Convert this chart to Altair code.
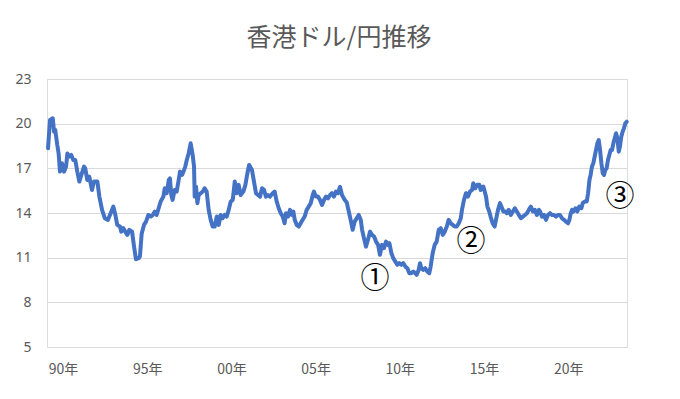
import altair as alt
import pandas as pd

years = [
    1989.11, 1989.23, 1989.39, 1989.47, 1989.54, 1989.66, 1989.74, 1989.82, 1989.94,
    1990.06, 1990.18, 1990.26, 1990.37, 1990.49, 1990.61, 1990.73, 1990.85, 1990.97,
    1991.09, 1991.25, 1991.32, 1991.44, 1991.56, 1991.72, 1991.84, 1992.04, 1992.16,
    1992.32, 1992.48, 1992.67, 1992.83, 1992.99, 1993.11, 1993.22, 1993.38, 1993.46,
    1993.58, 1993.70, 1993.82, 1993.94, 1994.10, 1994.22, 1994.33, 1994.50, 1994.57,
    1994.67, 1994.81, 1994.93, 1995.07, 1995.21, 1995.33, 1995.45, 1995.56, 1995.68,
    1995.80, 1995.96, 1996.04, 1996.16, 1996.28, 1996.35, 1996.43, 1996.51, 1996.63,
    1996.75, 1996.87, 1996.95, 1997.07, 1997.19, 1997.26, 1997.35, 1997.46, 1997.58,
    1997.70, 1997.78, 1997.82, 1997.90, 1997.98, 1998.06, 1998.18, 1998.30, 1998.41,
    1998.53, 1998.65, 1998.77, 1998.89, 1999.01, 1999.13, 1999.25, 1999.36, 1999.48,
    1999.60, 1999.72, 1999.84, 1999.96, 2000.08, 2000.20, 2000.31, 2000.43, 2000.55,
    2000.71, 2000.83, 2000.95, 2001.05, 2001.12, 2001.22, 2001.34, 2001.46, 2001.58,
    2001.70, 2001.82, 2001.94, 2002.05, 2002.17, 2002.29, 2002.45, 2002.57, 2002.69,
    2002.81, 2002.93, 2003.05, 2003.16, 2003.24, 2003.36, 2003.48, 2003.60, 2003.68,
    2003.76, 2003.88, 2004.00, 2004.11, 2004.23, 2004.35, 2004.47, 2004.59, 2004.71,
    2004.83, 2004.90, 2005.02, 2005.14, 2005.26, 2005.38, 2005.50, 2005.62, 2005.74,
    2005.86, 2005.97, 2006.09, 2006.21, 2006.33, 2006.45, 2006.57, 2006.73, 2006.85,
    2006.97, 2007.08, 2007.20, 2007.32, 2007.44, 2007.56, 2007.68, 2007.76, 2007.87,
    2007.99, 2008.11, 2008.23, 2008.35, 2008.47, 2008.59, 2008.71, 2008.82, 2008.94,
    2009.06, 2009.18, 2009.30, 2009.38, 2009.50, 2009.61, 2009.73, 2009.85, 2009.97,
    2010.09, 2010.21, 2010.33, 2010.45, 2010.56, 2010.68, 2010.80, 2010.92, 2011.00,
    2011.12, 2011.20, 2011.28, 2011.40, 2011.51, 2011.63, 2011.75, 2011.83, 2011.95,
    2012.07, 2012.19, 2012.31, 2012.43, 2012.55, 2012.67, 2012.79, 2012.90, 2013.02,
    2013.14, 2013.26, 2013.38, 2013.50, 2013.62, 2013.69, 2013.81, 2013.93, 2014.05,
    2014.17, 2014.29, 2014.36, 2014.48, 2014.60, 2014.72, 2014.80, 2014.88, 2014.96,
    2015.04, 2015.12, 2015.20, 2015.31, 2015.39, 2015.51, 2015.63, 2015.71, 2015.83,
    2015.95, 2016.03, 2016.15, 2016.27, 2016.35, 2016.47, 2016.59, 2016.71, 2016.83,
    2016.95, 2017.07, 2017.19, 2017.31, 2017.43, 2017.55, 2017.66, 2017.78, 2017.90,
    2018.02, 2018.14, 2018.26, 2018.33, 2018.44, 2018.56, 2018.68, 2018.80, 2018.92,
    2019.04, 2019.16, 2019.28, 2019.39, 2019.51, 2019.63, 2019.75, 2019.87, 2019.99,
    2020.07, 2020.15, 2020.23, 2020.31, 2020.43, 2020.54, 2020.66, 2020.78, 2020.86,
    2020.98, 2021.10, 2021.18, 2021.26, 2021.33, 2021.41, 2021.49, 2021.57, 2021.65,
    2021.73, 2021.81, 2021.89, 2021.97, 2022.05, 2022.13, 2022.20, 2022.28, 2022.36,
    2022.44, 2022.52, 2022.60, 2022.68, 2022.76, 2022.84, 2022.92, 2023.00, 2023.07,
    2023.15, 2023.23, 2023.31, 2023.39, 2023.47,
]

rates = [
    18.35, 20.25, 20.36, 19.46, 19.58, 18.57, 18.00, 16.78, 17.34,
    16.78, 17.10, 18.00, 17.79, 17.90, 17.56, 17.56, 16.78, 16.11,
    16.56, 17.12, 17.00, 16.22, 16.44, 15.55, 16.11, 16.11, 15.10,
    14.21, 13.65, 13.54, 13.99, 14.43, 13.87, 13.20, 13.09, 12.75,
    12.98, 12.75, 12.53, 12.87, 12.75, 11.74, 10.90, 10.97, 11.10,
    12.60, 13.20, 13.42, 13.87, 13.76, 13.87, 14.09, 13.87, 14.32,
    14.77, 15.10, 15.66, 15.33, 16.22, 16.33, 15.21, 14.88, 15.55,
    15.44, 16.22, 16.78, 16.56, 16.89, 17.12, 17.56, 18.00, 18.68,
    17.90, 17.12, 15.10, 15.77, 14.66, 15.21, 15.33, 15.44, 15.66,
    15.44, 14.21, 13.54, 13.09, 13.09, 13.76, 13.20, 13.87, 13.65,
    13.87, 13.76, 14.21, 14.77, 14.88, 16.11, 15.33, 15.89, 15.21,
    15.44, 15.89, 16.67, 17.23, 17.10, 16.89, 16.11, 15.33, 15.21,
    15.10, 15.66, 15.55, 15.10, 15.21, 15.10, 15.33, 15.44, 14.77,
    14.32, 13.99, 13.76, 13.31, 13.99, 13.76, 14.21, 13.87, 14.09,
    13.54, 13.20, 13.09, 13.31, 13.54, 13.76, 14.21, 14.43, 14.66,
    15.21, 15.44, 15.10, 15.10, 14.88, 14.54, 14.88, 15.10, 14.99,
    15.21, 15.33, 15.10, 15.44, 15.33, 15.75, 15.20, 14.88, 14.70,
    14.10, 13.54, 12.87, 13.42, 13.65, 13.87, 13.54, 12.87, 12.31,
    11.74, 12.20, 12.75, 12.53, 12.42, 12.08, 11.86, 11.19, 11.86,
    11.64, 12.08, 11.86, 11.97, 11.30, 10.97, 10.74, 10.52, 10.63,
    10.52, 10.63, 10.40, 10.29, 9.96, 9.96, 10.07, 9.96, 9.85,
    10.18, 10.63, 10.29, 10.18, 10.29, 10.07, 9.96, 10.40, 11.30,
    11.86, 12.08, 12.87, 12.98, 12.53, 12.75, 13.09, 13.54, 13.31,
    13.20, 13.09, 13.09, 13.31, 13.65, 14.21, 14.88, 15.33, 15.10,
    15.44, 15.55, 16.00, 15.66, 15.89, 15.89, 15.55, 15.66, 15.78,
    15.44, 15.10, 14.43, 14.10, 13.76, 13.31, 13.09, 13.54, 14.21,
    14.66, 14.43, 14.10, 14.10, 13.99, 14.21, 13.87, 14.10, 14.32,
    14.10, 13.87, 13.65, 13.76, 13.87, 13.99, 14.21, 14.43, 14.10,
    14.21, 13.87, 14.21, 14.10, 13.76, 13.87, 13.54, 13.87, 13.99,
    13.87, 13.87, 13.76, 13.87, 13.87, 13.65, 13.54, 13.42, 13.31,
    13.54, 13.99, 14.21, 14.10, 14.32, 14.10, 14.43, 14.32, 14.66,
    14.77, 14.77, 15.33, 16.22, 16.56, 17.12, 17.34, 17.79, 18.23,
    18.68, 18.90, 18.23, 17.34, 16.67, 16.56, 16.89, 17.00, 17.56,
    17.90, 18.23, 18.23, 18.68, 19.02, 19.36, 19.02, 18.12, 18.46,
    19.13, 19.46, 19.69, 20.02, 20.13,
]

tick_years = [1990, 1995, 2000, 2005, 2010, 2015, 2020]
y_ticks = [5, 8, 11, 14, 17, 20, 23]

note_labels = ["①", "②", "③"]
note_years = [2008.53, 2014.23, 2023.08]
note_rates = [9.57, 12.03, 15.06]

df = pd.DataFrame({"year": years, "rate": rates})
notes = pd.DataFrame({"label": note_labels, "year": note_years, "rate": note_rates})

FONT = "Noto Sans CJK JP"
LABEL_FONT = "Noto Sans"

x_scale = alt.Scale(domain=[1989.05, 2023.49], nice=False, zero=False)
y_scale = alt.Scale(domain=[5, 23], nice=False, zero=False)

line = alt.Chart(df).mark_line(
    color="#4472C4", strokeWidth=4, strokeJoin="round", strokeCap="round"
).encode(
    x=alt.X(
        "year:Q",
        scale=x_scale,
        axis=alt.Axis(
            values=tick_years,
            labelExpr="(datum.value % 100 < 10 ? '0' : '') + (datum.value % 100) + '年'",
            grid=False,
            domain=False,
            ticks=False,
            labelPadding=15,
            labelFont=FONT,
            labelFontSize=14,
            labelColor="#595959",
            title=None,
        ),
    ),
    y=alt.Y(
        "rate:Q",
        scale=y_scale,
        axis=alt.Axis(
            values=y_ticks,
            grid=True,
            gridColor="#D9D9D9",
            gridWidth=1,
            domain=False,
            ticks=False,
            labelPadding=16,
            labelFont=LABEL_FONT,
            labelFontSize=14,
            labelColor="#595959",
            title=None,
        ),
    ),
)

text = alt.Chart(notes).mark_text(
    fontSize=29, color="#000000", font=FONT, fontWeight="normal"
).encode(
    x=alt.X("year:Q", scale=x_scale),
    y=alt.Y("rate:Q", scale=y_scale),
    text="label:N",
)

chart = (
    alt.layer(line, text)
    .properties(
        width=580,
        height=268,
        autosize=alt.AutoSizeParams(type="none"),
        padding={"left": 39, "top": 71, "right": 37, "bottom": 40},
        title=alt.TitleParams(
            text="香港ドル/円推移",
            font=FONT,
            fontSize=25,
            fontWeight="normal",
            color="#595959",
            anchor="middle",
            offset=21,
            dx=2,
        ),
    )
    .configure_view(stroke=None)
    .configure(background="#FFFFFF")
)

chart.save("out.html", embed_options={"renderer": "svg", "actions": False})
